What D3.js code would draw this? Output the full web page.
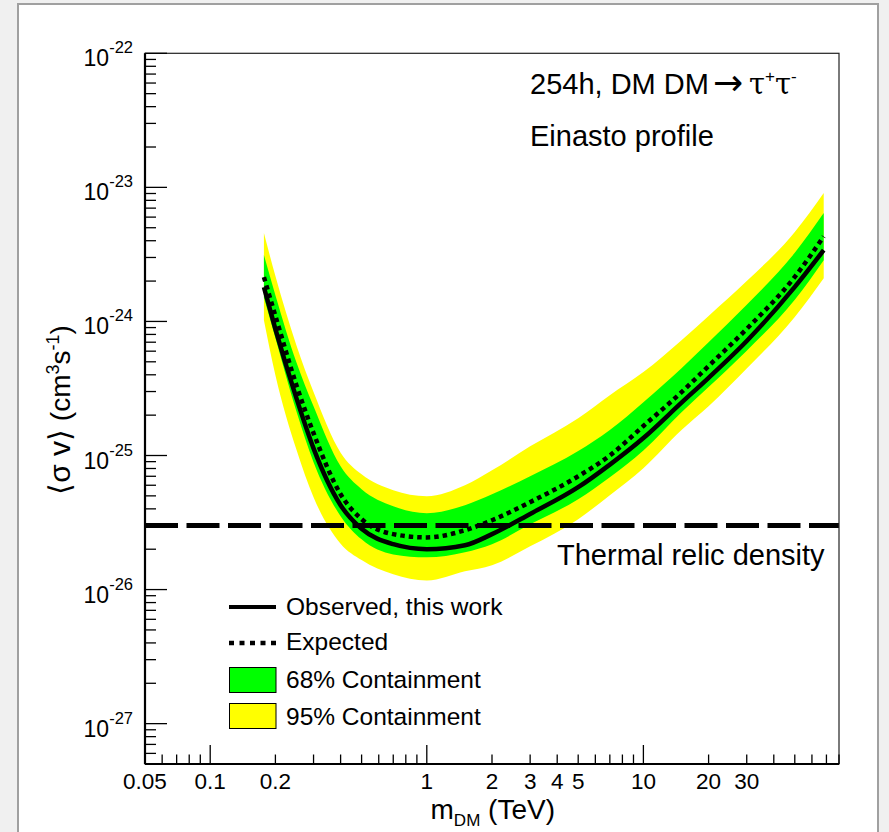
<!DOCTYPE html>
<html lang="en">
    <head>
        <meta charset="utf-8">
        <title>DM tau tau limits</title>
        <script type="text/javascript" src="https://d3js.org/d3.v7.min.js"></script>
        <style type="text/css">
            body { margin: 0; background: #f0f0f0; }
            text {
                font-family: "Liberation Sans", Arial, Helvetica, sans-serif;
                fill: black;
            }
        </style>
    </head>
    <body>
        <script type="text/javascript">

        // Datos (masa en TeV, <sigma v> en cm^3 s^-1)
        var masses    = [0.177, 0.2, 0.25, 0.3, 0.4, 0.5, 0.7, 1, 1.5, 2, 3, 5, 7, 10, 15, 20, 30, 50, 68];
        var observed  = [1.80e-24, 8.77e-25, 2.68e-25, 1.13e-25, 4.26e-26, 2.84e-26, 2.18e-26, 2.0e-26, 2.14e-26, 2.59e-26, 3.66e-26, 5.80e-26, 8.55e-26, 1.35e-25, 2.48e-25, 3.80e-25, 7.15e-25, 1.81e-24, 3.40e-24];
        var expected  = [2.14e-24, 1.10e-24, 3.35e-25, 1.47e-25, 5.14e-26, 3.35e-26, 2.59e-26, 2.45e-26, 2.77e-26, 3.29e-26, 4.49e-26, 7.0e-26, 1.0e-25, 1.66e-25, 2.97e-25, 4.65e-25, 8.8e-25, 2.15e-24, 4.30e-24];
        var green_hi  = [3.13e-24, 1.57e-24, 4.97e-25, 2.33e-25, 8.31e-26, 5.61e-26, 4.19e-26, 3.71e-26, 4.26e-26, 5.14e-26, 7.0e-26, 1.08e-25, 1.55e-25, 2.5e-25, 4.48e-25, 7.0e-25, 1.33e-24, 3.25e-24, 6.43e-24];
        var green_lo  = [1.51e-24, 7.52e-25, 2.14e-25, 8.91e-26, 3.53e-26, 2.37e-26, 1.83e-26, 1.74e-26, 1.90e-26, 2.18e-26, 3.07e-26, 4.72e-26, 6.89e-26, 1.09e-25, 2.10e-25, 3.24e-25, 6.05e-25, 1.45e-24, 2.86e-24];
        var yellow_hi = [4.56e-24, 2.18e-24, 6.65e-25, 2.97e-25, 1.05e-25, 7.24e-26, 5.51e-26, 4.97e-26, 6.0e-26, 7.76e-26, 1.17e-25, 1.90e-25, 2.82e-25, 4.19e-25, 7.24e-25, 1.10e-24, 2.0e-24, 4.65e-24, 9.08e-24];
        var yellow_lo = [1.02e-24, 3.97e-25, 1.11e-25, 4.89e-26, 2.2e-26, 1.66e-26, 1.30e-26, 1.17e-26, 1.37e-26, 1.52e-26, 2.10e-26, 3.35e-26, 5.06e-26, 8.04e-26, 1.55e-25, 2.33e-25, 4.45e-25, 1.08e-24, 2.10e-24];
        var thermal = 3e-26;

        var xTickLabels = [0.05, 0.1, 0.2, 1, 2, 3, 4, 5, 10, 20, 30];
        var yTickLabels = [-27, -26, -25, -24, -23, -22];

        // Tamanos
        var w = 889;
        var h = 832;
        var fLeft = 145, fRight = 839, fTop = 53.3, fBottom = 764;

        var x = d3.scaleLog().domain([0.05, 80]).range([fLeft, fRight]);
        var y = d3.scaleLog().domain([5e-28, 1e-22]).range([fBottom, fTop]);

        var svg = d3.select("body")
                    .append("svg")
                    .attr("width", w)
                    .attr("height", h)
                    .style("display", "block");

        // Panel
        svg.append("rect")
            .attr("x", 18).attr("y", 4)
            .attr("width", 860).attr("height", 850)
            .attr("fill", "white")
            .attr("stroke", "#a0a0a0")
            .attr("stroke-width", 2);

        svg.append("clipPath").attr("id", "clip")
            .append("rect")
            .attr("x", fLeft).attr("y", fTop)
            .attr("width", fRight - fLeft).attr("height", fBottom - fTop);

        var plot = svg.append("g").attr("clip-path", "url(#clip)");

        var idx = d3.range(masses.length);

        // Bandas
        var band = function(lo, hi) {
            return d3.area()
                .curve(d3.curveMonotoneX)
                .x(function(i){ return x(masses[i]); })
                .y0(function(i){ return y(lo[i]); })
                .y1(function(i){ return y(hi[i]); });
        };

        plot.append("path")
            .attr("d", band(yellow_lo, yellow_hi)(idx))
            .attr("fill", "#ffff00");

        plot.append("path")
            .attr("d", band(green_lo, green_hi)(idx))
            .attr("fill", "#00ff00");

        var line = function(vals) {
            return d3.line()
                .curve(d3.curveMonotoneX)
                .x(function(i){ return x(masses[i]); })
                .y(function(i){ return y(vals[i]); });
        };

        plot.append("path")
            .attr("d", line(expected)(idx))
            .attr("fill", "none")
            .attr("stroke", "black")
            .attr("stroke-width", 4.5)
            .attr("stroke-dasharray", "4.5,4");

        plot.append("path")
            .attr("d", line(observed)(idx))
            .attr("fill", "none")
            .attr("stroke", "black")
            .attr("stroke-width", 4.5);

        // Densidad reliquia termica
        plot.append("line")
            .attr("x1", fLeft).attr("x2", fRight)
            .attr("y1", y(thermal)).attr("y2", y(thermal))
            .attr("stroke", "black")
            .attr("stroke-width", 5)
            .attr("stroke-dasharray", "33,8.5");

        // Marco
        svg.append("rect")
            .attr("x", fLeft).attr("y", fTop)
            .attr("width", fRight - fLeft).attr("height", fBottom - fTop)
            .attr("fill", "none")
            .attr("stroke", "#222")
            .attr("stroke-width", 1.2);

        // Eje X
        var xMinor = [];
        [0.01, 0.1, 1, 10].forEach(function(d) {
            for (var k = 1; k < 10; k++) {
                var v = d * k;
                if (v >= 0.05 && v <= 80) xMinor.push(v);
            }
        });

        var xAxis = svg.append("g");
        xAxis.selectAll("line.tick")
            .data(xMinor)
            .enter()
            .append("line")
            .attr("x1", function(d){ return x(d); })
            .attr("x2", function(d){ return x(d); })
            .attr("y1", fBottom)
            .attr("y2", function(d){
                var l = Math.log10(d);
                return fBottom - (Math.abs(l - Math.round(l)) < 1e-6 ? 19 : 9.5);
            })
            .attr("stroke", "black")
            .attr("stroke-width", 1.3);

        xAxis.append("line")
            .attr("x1", fLeft).attr("x2", fRight)
            .attr("y1", fBottom).attr("y2", fBottom)
            .attr("stroke", "black").attr("stroke-width", 2.2);

        xAxis.selectAll("text")
            .data(xTickLabels)
            .enter()
            .append("text")
            .attr("x", function(d){ return x(d); })
            .attr("y", 789)
            .attr("text-anchor", "middle")
            .style("font-size", "22.5px")
            .text(function(d){ return d; });

        var xt = svg.append("text")
            .attr("x", 555).attr("y", 819)
            .attr("text-anchor", "end")
            .style("font-size", "28px");
        xt.append("tspan").text("m");
        xt.append("tspan").attr("dy", 7).style("font-size", "17px").text("DM");
        xt.append("tspan").attr("dy", -7).text(" (TeV)");

        // Eje Y
        var yMinor = [];
        d3.range(-28, -22).forEach(function(e) {
            for (var k = 1; k < 10; k++) {
                var v = k * Math.pow(10, e);
                if (v >= 5e-28 && v <= 1e-22) yMinor.push({v: v, major: k === 1});
            }
        });
        yMinor.push({v: 1e-22, major: true});

        var yAxis = svg.append("g");
        yAxis.selectAll("line.tick")
            .data(yMinor)
            .enter()
            .append("line")
            .attr("y1", function(d){ return y(d.v); })
            .attr("y2", function(d){ return y(d.v); })
            .attr("x1", fLeft)
            .attr("x2", function(d){ return fLeft + (d.major ? 22 : 11); })
            .attr("stroke", "black")
            .attr("stroke-width", 1.3);

        yAxis.append("line")
            .attr("x1", fLeft).attr("x2", fLeft)
            .attr("y1", fTop).attr("y2", fBottom)
            .attr("stroke", "black").attr("stroke-width", 2.2);

        var ylab = yAxis.selectAll("text")
            .data(yTickLabels)
            .enter()
            .append("text")
            .attr("x", 133)
            .attr("y", function(d){ return y(Math.pow(10, d)) + 13; })
            .attr("text-anchor", "end")
            .style("font-size", "23px");
        ylab.append("tspan").text("10");
        ylab.append("tspan")
            .attr("dy", -13)
            .style("font-size", "16.5px")
            .text(function(d){ return d; });

        var yt = svg.append("text")
            .attr("transform", "translate(70,410) rotate(-90)")
            .attr("text-anchor", "middle")
            .style("font-size", "28px");
        yt.append("tspan").style("font-size", "30px").text("\u27E8\u03C3 v\u27E9");
        yt.append("tspan").text("  (cm");
        yt.append("tspan").attr("dy", -11).style("font-size", "18px").text("3");
        yt.append("tspan").attr("dy", 11).text("s");
        yt.append("tspan").attr("dy", -11).style("font-size", "18px").text("-1");
        yt.append("tspan").attr("dy", 11).text(")");

        // Textos
        var t1 = svg.append("text")
            .attr("x", 530).attr("y", 94)
            .style("font-size", "29px");
        t1.append("tspan").text("254h, DM DM");
        t1.append("tspan").attr("dx", 4)
            .style("font-family", "'DejaVu Sans', sans-serif")
            .style("font-size", "36px").attr("dy", 1)
            .text("\u2192");
        t1.append("tspan").attr("dx", 6).attr("dy", -1)
            .style("font-family", "'DejaVu Serif', serif")
            .text("\u03C4");
        t1.append("tspan").attr("dy", -12).style("font-size", "17px").text("+");
        t1.append("tspan").attr("dy", 12)
            .style("font-family", "'DejaVu Serif', serif")
            .text("\u03C4");
        t1.append("tspan").attr("dy", -12).style("font-size", "17px").text("-");

        svg.append("text")
            .attr("x", 530).attr("y", 146)
            .style("font-size", "29px")
            .text("Einasto profile");

        svg.append("text")
            .attr("x", 557).attr("y", 565)
            .style("font-size", "29px")
            .text("Thermal relic density");

        // Leyenda
        var legend = svg.append("g");
        legend.append("line")
            .attr("x1", 229).attr("x2", 276)
            .attr("y1", 607).attr("y2", 607)
            .attr("stroke", "black").attr("stroke-width", 4);
        legend.append("line")
            .attr("x1", 229).attr("x2", 276)
            .attr("y1", 643).attr("y2", 643)
            .attr("stroke", "black").attr("stroke-width", 4.5)
            .attr("stroke-dasharray", "5,5.5");
        legend.append("rect")
            .attr("x", 229.5).attr("y", 667.5)
            .attr("width", 46.5).attr("height", 25)
            .attr("fill", "#00ff00").attr("stroke", "black").attr("stroke-width", 1);
        legend.append("rect")
            .attr("x", 229.5).attr("y", 703.5)
            .attr("width", 46.5).attr("height", 25)
            .attr("fill", "#ffff00").attr("stroke", "black").attr("stroke-width", 1);

        var legText = ["Observed, this work", "Expected", "68% Containment", "95% Containment"];
        var legY = [615, 650, 688, 725];
        legend.selectAll("text")
            .data(legText)
            .enter()
            .append("text")
            .attr("x", 286)
            .attr("y", function(d, i){ return legY[i]; })
            .style("font-size", "24.5px")
            .text(function(d){ return d; });

        </script>
    </body>
</html>
